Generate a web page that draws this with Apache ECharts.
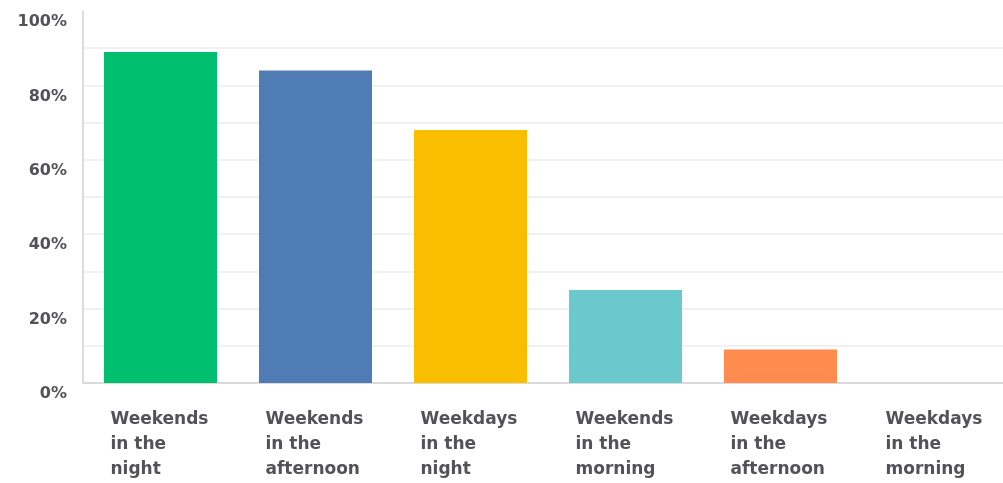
<!DOCTYPE html>
<html>
<head>
<meta charset="utf-8">
<style>
  html, body { margin: 0; padding: 0; background: #ffffff; overflow: hidden; }
  #chart { width: 1013px; height: 483px; }
</style>
<script src="https://cdn.jsdelivr.net/npm/echarts@6/dist/echarts.min.js"></script>
</head>
<body>
<div id="chart"></div>
<script>
// Share of respondents for each time slot
const categories = [
  'Weekends\nin the\nnight',
  'Weekends\nin the\nafternoon',
  'Weekdays\nin the\nnight',
  'Weekends\nin the\nmorning',
  'Weekdays\nin the\nafternoon',
  'Weekdays\nin the\nmorning'
];
const values = [89, 84, 68, 25, 9, 0];
const barColors = ['#00bf6f', '#507cb6', '#f9be00', '#6bc8cd', '#ff8b4f', '#a8a8a8'];
const yTickStep = 10;
const yLabelStep = 20;

const chart = echarts.init(document.getElementById('chart'), null, { renderer: 'canvas' });

// every grid line except the one at 100% is drawn
const gridColors = [];
for (let v = 0; v <= 100; v += yTickStep) {
  gridColors.push(v === 100 ? 'rgba(0,0,0,0)' : '#ececec');
}

const labelFont = 'DejaVu Sans';
const labelColor = '#525259';

chart.setOption({
  animation: false,
  backgroundColor: '#ffffff',
  grid: { left: 83, top: 11, width: 930, height: 372, containLabel: false },
  xAxis: {
    type: 'category',
    data: categories,
    axisLine: { show: true, lineStyle: { color: '#d2d2d2', width: 1.5 } },
    axisTick: { show: false },
    axisLabel: {
      interval: 0,
      margin: 24,
      formatter: function (v) {
        return v.split('\n').map(function (s) { return '{t|' + s + '}'; }).join('\n');
      },
      rich: {
        t: {
          width: 100,
          align: 'left',
          fontFamily: labelFont,
          fontWeight: 'bold',
          fontSize: 17,
          lineHeight: 25,
          color: labelColor
        }
      }
    }
  },
  yAxis: {
    type: 'value',
    min: 0,
    max: 100,
    interval: yTickStep,
    axisLine: { show: true, lineStyle: { color: '#d2d2d2', width: 1.5 } },
    axisTick: { show: false },
    splitLine: { show: true, lineStyle: { color: gridColors, width: 1.5 } },
    axisLabel: {
      margin: 16,
      verticalAlign: 'top',
      padding: [3, 0, 0, 0],
      fontFamily: labelFont,
      fontWeight: 'bold',
      fontSize: 16,
      color: labelColor,
      formatter: function (v) { return v % yLabelStep === 0 ? v + '%' : ''; }
    }
  },
  series: [{
    type: 'bar',
    barWidth: 113,
    data: values.map(function (v, i) {
      return { value: v, itemStyle: { color: barColors[i] } };
    })
  }]
});
</script>
</body>
</html>
